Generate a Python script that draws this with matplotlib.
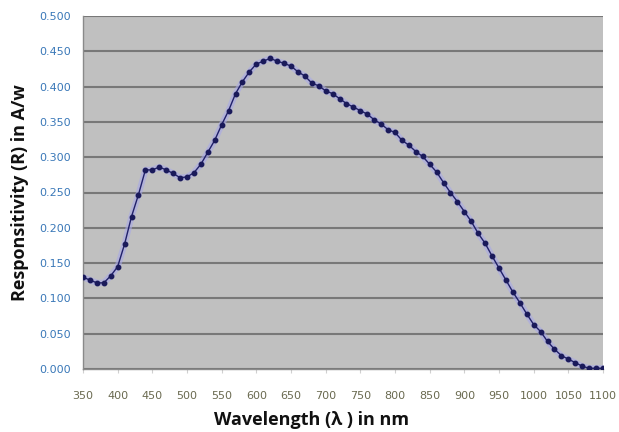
import matplotlib
matplotlib.use("Agg")
import matplotlib.pyplot as plt
import numpy as np

wavelength = list(range(350, 1101, 10))
responsivity = [
    0.130, 0.126, 0.122, 0.122, 0.132, 0.145, 0.177, 0.216, 0.247, 0.282,
    0.282, 0.286, 0.282, 0.277, 0.271, 0.272, 0.278, 0.290, 0.307, 0.324,
    0.346, 0.366, 0.390, 0.407, 0.421, 0.432, 0.436, 0.440, 0.436, 0.433,
    0.429, 0.421, 0.415, 0.405, 0.401, 0.394, 0.390, 0.383, 0.376, 0.371,
    0.366, 0.361, 0.353, 0.347, 0.339, 0.335, 0.324, 0.317, 0.308, 0.301,
    0.290, 0.279, 0.264, 0.250, 0.237, 0.223, 0.209, 0.192, 0.178, 0.160,
    0.143, 0.126, 0.109, 0.094, 0.078, 0.063, 0.053, 0.039, 0.028, 0.019,
    0.014, 0.009, 0.004, 0.001, 0.001, 0.001,
]
x_ticks = list(range(350, 1101, 50))
y_ticks = [0.0, 0.05, 0.10, 0.15, 0.20, 0.25, 0.30, 0.35, 0.40, 0.45, 0.50]
x_label = "Wavelength (λ ) in nm"
y_label = "Responsitivity (R) in A/w"

fig = plt.figure(figsize=(6.19, 4.32), dpi=100)
ax = fig.add_axes([83/619, 1 - 369/432, 520/619, 353/432])
ax.set_facecolor("#c0c0c0")

# soft glow under the line
ax.plot(wavelength, responsivity, color="#a8a8e8", lw=4.5, alpha=0.6, zorder=2,
        solid_capstyle="round")
ax.plot(wavelength, responsivity, color="#20206a", lw=1.0, marker="o",
        markersize=3.2, markerfacecolor="#1a1a5a", markeredgecolor="#1a1a5a",
        zorder=3)

ax.set_xlim(350, 1100)
ax.set_ylim(0, 0.5)
ax.set_xticks(x_ticks)
ax.set_xticklabels([str(v) for v in x_ticks])
ax.set_yticks(y_ticks)
ax.set_yticklabels([f"{v:.3f}" for v in y_ticks])

ax.grid(axis="y", color="#787878", lw=1.5, zorder=1)
ax.set_axisbelow(True)
for s in ["top", "right"]:
    ax.spines[s].set_visible(False)
ax.spines["left"].set_color("#8a8a8a")
ax.spines["bottom"].set_color("#8a8a8a")
ax.spines["left"].set_linewidth(1.0)
ax.spines["bottom"].set_linewidth(1.0)

ax.tick_params(axis="y", length=0, pad=8.5, labelsize=8, labelcolor="#3a78b8")
ax.tick_params(axis="x", length=3, color="#d0d0d0", pad=13, labelsize=8,
               labelcolor="#6a6a50")

ax.set_xlabel(x_label, fontsize=13, fontweight="bold", family="Open Sans",
              color="#111111", va="center")
ax.set_ylabel(y_label, fontsize=13, fontweight="bold", family="Open Sans",
              color="#111111", va="center")
ax.xaxis.set_label_coords((312 - 83) / 520, (369 - 420) / 353)
ax.yaxis.set_label_coords((20 - 83) / 520, 0.5)

fig.savefig("out.png", dpi=100)
